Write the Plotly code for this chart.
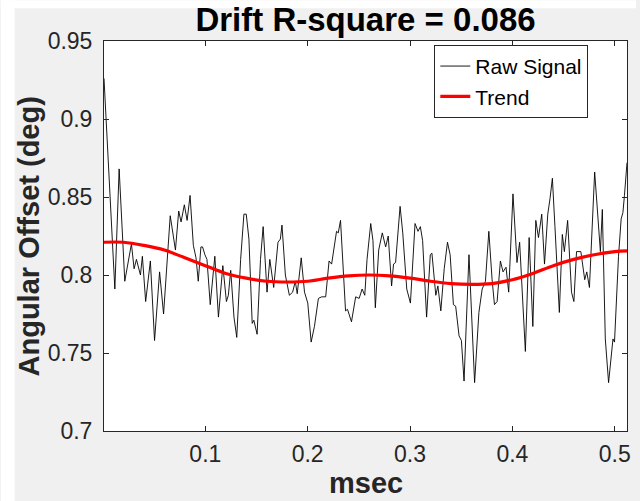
import plotly.graph_objects as go

# ---- data ----
x_raw = [0.001, 0.0116, 0.0158, 0.0213, 0.0278, 0.0304, 0.0327, 0.0366, 0.0385, 0.0417,
         0.0463, 0.0504, 0.0553, 0.0592, 0.0657, 0.0708, 0.0740, 0.0763, 0.0795, 0.0822,
         0.0851, 0.0883, 0.0909, 0.0931, 0.0957, 0.0973, 0.0996, 0.1016, 0.1048, 0.1093,
         0.1128, 0.1171, 0.1206, 0.1225, 0.1248, 0.1280, 0.1307, 0.1345, 0.1377, 0.1400,
         0.1426, 0.1458, 0.1474, 0.1506, 0.1539, 0.1565, 0.1603, 0.1630, 0.1668, 0.1710,
         0.1733, 0.1749, 0.1782, 0.1821, 0.1853, 0.1879, 0.1898, 0.1937, 0.1969, 0.2001,
         0.2034, 0.2066, 0.2105, 0.2137, 0.2176, 0.2209, 0.2234, 0.2267, 0.2282, 0.2299,
         0.2321, 0.2370, 0.2389, 0.2428, 0.2469, 0.2503, 0.2532, 0.2558, 0.2580, 0.2616,
         0.2638, 0.2661, 0.2694, 0.2729, 0.2762, 0.2787, 0.2820, 0.2839, 0.2859, 0.2903,
         0.2929, 0.2968, 0.3004, 0.3049, 0.3078, 0.3101, 0.3123, 0.3162, 0.3198, 0.3214,
         0.3252, 0.3272, 0.3301, 0.3334, 0.3366, 0.3392, 0.3424, 0.3446, 0.3479, 0.3502,
         0.3528, 0.3576, 0.3631, 0.3673, 0.3705, 0.3737, 0.3770, 0.3802, 0.3825, 0.3851,
         0.3883, 0.3909, 0.3938, 0.3964, 0.4006, 0.4045, 0.4071, 0.4127, 0.4164, 0.4200,
         0.4229, 0.4255, 0.4287, 0.4314, 0.4346, 0.4368, 0.4391, 0.4416, 0.4459, 0.4488,
         0.4508, 0.4540, 0.4578, 0.4601, 0.4627, 0.4669, 0.4707, 0.4727, 0.4753, 0.4804,
         0.4860, 0.4879, 0.4908, 0.4940, 0.4983, 0.4998, 0.5037, 0.5063, 0.5080, 0.5095,
         0.5120]
y_raw = [0.926, 0.791, 0.868, 0.796, 0.820, 0.804, 0.810, 0.800, 0.812, 0.783,
         0.809, 0.758, 0.802, 0.775, 0.838, 0.816, 0.841, 0.834, 0.845, 0.835,
         0.851, 0.819, 0.811, 0.796, 0.818, 0.818, 0.813, 0.810, 0.781, 0.812,
         0.773, 0.806, 0.783, 0.787, 0.803, 0.773, 0.760, 0.810, 0.839, 0.839,
         0.823, 0.769, 0.771, 0.762, 0.810, 0.831, 0.789, 0.810, 0.792, 0.821,
         0.823, 0.832, 0.800, 0.787, 0.789, 0.796, 0.788, 0.811, 0.789, 0.782,
         0.757, 0.767, 0.785, 0.786, 0.786, 0.809, 0.807, 0.822, 0.828, 0.827,
         0.835, 0.777, 0.778, 0.770, 0.786, 0.785, 0.791, 0.787, 0.810, 0.833,
         0.822, 0.779, 0.816, 0.827, 0.818, 0.825, 0.793, 0.807, 0.808, 0.844,
         0.827, 0.791, 0.782, 0.833, 0.828, 0.831, 0.822, 0.773, 0.813, 0.814,
         0.787, 0.793, 0.777, 0.804, 0.821, 0.813, 0.781, 0.780, 0.761, 0.758,
         0.732, 0.813, 0.731, 0.776, 0.791, 0.796, 0.828, 0.797, 0.781, 0.783,
         0.809, 0.802, 0.805, 0.789, 0.852, 0.808, 0.821, 0.751, 0.824, 0.767,
         0.835, 0.824, 0.839, 0.807, 0.839, 0.849, 0.862, 0.831, 0.776, 0.826,
         0.815, 0.835, 0.789, 0.783, 0.815, 0.815, 0.797, 0.802, 0.792, 0.866,
         0.815, 0.842, 0.759, 0.731, 0.759, 0.757, 0.812, 0.836, 0.840, 0.851,
         0.872]

x_trend = [0.001, 0.02, 0.04, 0.06, 0.08, 0.10, 0.12, 0.14, 0.16, 0.18, 0.20, 0.22, 0.24,
           0.26, 0.28, 0.30, 0.32, 0.34, 0.36, 0.38, 0.40, 0.42, 0.44, 0.46, 0.48, 0.50, 0.512]
y_trend = [0.821, 0.821, 0.819, 0.816, 0.811, 0.806, 0.801, 0.798, 0.796, 0.7955, 0.796,
           0.798, 0.7995, 0.800, 0.7995, 0.798, 0.796, 0.7945, 0.794, 0.7945, 0.797,
           0.801, 0.806, 0.810, 0.813, 0.815, 0.8155]

x_tickvals = [0.1, 0.2, 0.3, 0.4, 0.5]
x_ticktext = ["0.1", "0.2", "0.3", "0.4", "0.5"]
y_tickvals = [0.7, 0.75, 0.8, 0.85, 0.9, 0.95]
y_ticktext = ["0.7", "0.75", "0.8", "0.85", "0.9", "0.95"]

title_text = "Drift R-square = 0.086"
x_label = "msec"
y_label = "Angular Offset (deg)"
names = ["Raw Signal", "Trend"]

FONT = "Liberation Sans, Arial, Helvetica, sans-serif"
AX = "#262626"

fig = go.Figure()
fig.add_trace(go.Scatter(x=x_raw, y=y_raw, mode="lines", name=names[0],
                         line=dict(color="black", width=0.9)))
fig.add_trace(go.Scatter(x=x_trend, y=y_trend, mode="lines", name=names[1],
                         line=dict(color="#ff0000", width=3.2, shape="spline", smoothing=1.0)))

axis_common = dict(showgrid=False, zeroline=False, showline=True, linecolor=AX, linewidth=1,
                   mirror="ticks", ticks="inside", ticklen=5, tickcolor=AX, tickwidth=1,
                   tickfont=dict(family=FONT, size=23, color=AX))

fig.update_xaxes(range=[0.001, 0.512], tickmode="array", tickvals=x_tickvals,
                 ticktext=x_ticktext, ticklabelstandoff=2, **axis_common)
fig.update_yaxes(range=[0.7, 0.95], tickmode="array", tickvals=y_tickvals,
                 ticktext=y_ticktext, ticklabelstandoff=6, **axis_common)

fig.update_layout(
    width=640, height=501,
    margin=dict(l=104, r=9, t=41, b=70, pad=0),
    paper_bgcolor="#f0f0f0", plot_bgcolor="white",
    title=dict(text=title_text, x=0.5, xref="paper", xanchor="center",
               y=1 - 19.5 / 501, yref="container", yanchor="middle",
               font=dict(family=FONT, size=33, color="black", weight="bold")),
    showlegend=True,
    legend=dict(x=0.926, y=0.99, xanchor="right", yanchor="top",
                bgcolor="white", bordercolor=AX, borderwidth=1,
                font=dict(family=FONT, size=21, color="black"),
                tracegroupgap=0),
    shapes=[
        dict(type="rect", xref="paper", yref="paper", x0=-0.1973, x1=-0.1708,
             y0=-0.1803, y1=1.1044, fillcolor="white", line=dict(width=0), layer="below"),
        dict(type="rect", xref="paper", yref="paper", x0=-0.1973, x1=1.0171,
             y0=1.0838, y1=1.1044, fillcolor="white", line=dict(width=0), layer="below"),
    ],
    annotations=[
        dict(text=y_label, xref="paper", yref="paper", x=-0.1425, y=0.5,
             xanchor="center", yanchor="middle", textangle=-90, showarrow=False,
             font=dict(family=FONT, size=29, color=AX, weight="bold")),
        dict(text=x_label, xref="paper", yref="paper", x=0.5, y=-0.179,
             xanchor="center", yanchor="bottom", showarrow=False,
             font=dict(family=FONT, size=29, color=AX, weight="bold")),
    ],
)

fig.write_html("out.html")
